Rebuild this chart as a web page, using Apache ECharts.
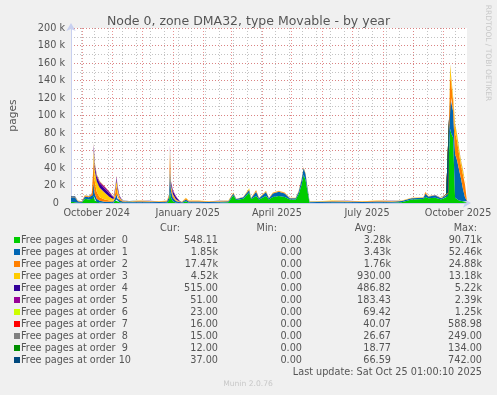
<!DOCTYPE html>
<html><head><meta charset="utf-8">
<script src="https://cdn.jsdelivr.net/npm/echarts@6/dist/echarts.min.js"></script>
<style>html,body{margin:0;padding:0;background:#F0F0F0}#c{width:497px;height:395px}</style>
</head><body><div id="c"></div>
<script>
// ---- data (pages), one value per sample date ----
const dates = ['2024-09-20','2024-09-24','2024-09-27','2024-10-01','2024-10-04','2024-10-08','2024-10-11','2024-10-12','2024-10-13','2024-10-14',
'2024-10-16','2024-10-19','2024-10-24','2024-10-29','2024-11-02','2024-11-04','2024-11-05','2024-11-06','2024-11-08','2024-11-11',
'2024-11-18','2024-11-28','2024-12-08','2024-12-18','2024-12-26','2024-12-28','2024-12-29','2024-12-30','2025-01-01','2025-01-04',
'2025-01-07','2025-01-10','2025-01-14','2025-01-17','2025-01-27','2025-02-06','2025-02-16','2025-02-26','2025-03-03','2025-03-06',
'2025-03-13','2025-03-19','2025-03-21','2025-03-26','2025-03-29','2025-04-05','2025-04-08','2025-04-12','2025-04-18','2025-04-24',
'2025-04-29','2025-05-05','2025-05-08','2025-05-11','2025-05-13','2025-05-15','2025-05-17','2025-05-19','2025-05-27','2025-06-11',
'2025-06-26','2025-07-11','2025-07-26','2025-08-10','2025-08-20','2025-08-30','2025-09-11','2025-09-13','2025-09-16','2025-09-23',
'2025-09-29','2025-10-04','2025-10-06','2025-10-07','2025-10-08','2025-10-09','2025-10-11','2025-10-13','2025-10-15','2025-10-17',
'2025-10-19','2025-10-21','2025-10-23','2025-10-25'];

const order0 = [1500,1000,300,200,5000,4000,5000,5000,8000,3000,
1000,500,0,0,200,3000,4000,2000,1000,200,
200,300,200,100,300,3000,14000,6000,2000,200,
100,100,2000,300,200,100,300,800,9000,3500,
5000,12000,4500,8000,4000,8000,4000,7000,8000,7000,
4000,4000,10000,21000,32000,26000,13000,200,100,300,
200,100,400,300,1000,4000,4500,7000,5500,6000,
4000,6500,8000,60000,85000,80000,75000,6000,4000,3000,
3000,2000,1500,548];
const order1 = [5000,5500,1800,1000,2500,2500,3500,4000,15000,8000,
4000,2000,1500,1500,1500,4000,6000,3000,2000,1500,
1200,1500,1300,1100,1500,4000,24000,8000,4000,2000,
1000,800,2000,1500,1500,1100,1200,1300,2000,1000,
1500,3000,1000,5000,1500,4500,1500,4000,5000,4000,
1500,1500,3000,6000,8000,7000,4000,1300,1200,1300,
1200,1100,1300,1200,1300,1500,1500,3500,2000,2500,
1500,2300,2500,25000,36000,40000,30000,50000,45000,35000,
25000,14000,5000,1850];
const order2 = [500,500,500,400,1000,1000,1800,3000,24500,14000,
8000,4000,2500,1500,1000,6000,10000,6000,2000,500,
400,700,600,500,800,2000,18000,4000,2000,1000,
500,300,1500,800,800,500,600,600,600,300,
300,1000,300,1500,300,1000,300,700,700,700,
300,300,700,700,700,700,700,300,500,800,
600,500,800,600,400,300,300,1500,300,300,
300,800,1000,10000,24000,18000,12000,24500,22000,18000,
15000,16000,15000,17470];
const order3 = [200,200,200,200,300,300,400,1000,13000,13000,
12000,11000,8000,4000,1500,4000,6000,5000,1500,300,
200,300,300,200,300,500,5000,3000,2000,1000,
300,200,500,300,400,200,300,200,300,200,
200,500,200,500,200,500,200,300,300,300,
200,200,300,300,300,300,300,100,200,400,
300,200,300,300,200,200,200,500,200,200,
200,300,300,4000,13000,7000,5000,10000,7000,6000,
5000,5000,4000,4520];
const order4 = [100,100,0,0,0,0,200,500,5000,5000,
5000,5000,4500,4000,2000,2000,3000,3000,1500,300,
100,100,100,100,100,300,3000,3000,3500,3000,
1000,100,100,100,100,100,100,100,100,0,
0,200,0,0,0,0,0,0,0,0,
0,0,0,0,0,0,0,100,0,200,
200,100,200,100,100,100,100,200,100,100,
100,100,100,500,500,300,300,500,500,500,
500,500,500,515];
const order5 = [0,0,0,0,0,0,0,300,2300,2000,
2000,2000,2000,1500,700,1000,1500,1200,500,100,
0,0,0,0,0,100,2000,1000,1000,800,
200,0,0,0,0,0,0,0,0,0,
0,0,0,0,0,0,0,0,0,0,
0,0,0,0,0,0,0,0,0,0,
0,0,0,0,0,0,0,0,0,0,
0,0,0,200,200,100,100,100,100,100,
100,100,100,51];
const order6 = [0,0,0,0,0,0,0,0,1200,1000,
800,600,500,400,200,300,500,300,100,0,
0,0,0,0,0,0,1000,300,200,100,
0,0,0,0,0,0,0,0,0,0,
0,300,0,0,0,0,0,0,0,0,
0,0,0,0,0,0,0,0,0,0,
0,0,0,0,0,0,0,0,0,0,
0,0,0,100,100,0,0,0,0,0,
0,0,0,23];
const order7 = [0,0,0,0,0,0,0,0,500,300,
200,100,100,100,0,0,100,0,0,0,
0,0,0,0,0,0,500,100,0,0,
0,0,0,0,0,0,0,0,0,0,
0,0,0,0,0,0,0,0,0,0,
0,0,0,0,0,0,0,0,0,0,
0,0,0,0,0,0,0,300,0,0,
0,0,0,100,100,0,0,0,0,0,
0,0,0,16];
const order8 = [0,0,0,0,0,0,0,0,200,100,
100,0,0,0,0,0,0,0,0,0,
0,0,0,0,0,0,200,0,0,0,
0,0,0,0,0,0,0,0,0,0,
0,0,0,0,0,0,0,0,0,0,
0,0,0,0,0,0,0,0,0,0,
0,0,0,0,0,0,0,0,0,0,
0,0,0,0,0,0,0,0,0,0,
0,0,0,15];
const order9 = [0,0,0,0,0,0,0,0,100,0,
0,0,0,0,0,0,0,0,0,0,
0,0,0,0,0,0,100,0,0,0,
0,0,0,0,0,0,0,0,0,0,
0,0,0,0,0,0,0,0,0,0,
0,0,0,0,0,0,0,0,0,0,
0,0,0,0,0,0,0,0,0,0,
0,0,0,0,0,0,0,0,0,0,
0,0,0,12];
const order10 = [700,600,200,200,200,200,100,200,500,100,
0,0,0,0,0,0,100,0,0,100,
100,100,0,0,0,100,500,0,0,0,
0,0,0,0,0,0,0,0,0,0,
0,0,0,0,0,0,0,0,0,0,
0,0,0,0,0,0,0,0,0,0,
0,0,0,0,0,0,0,0,0,0,
0,0,100,100,100,100,0,0,0,0,
0,0,0,37];

const seriesNames = ['Free pages at order  0','Free pages at order  1','Free pages at order  2','Free pages at order  3',
'Free pages at order  4','Free pages at order  5','Free pages at order  6','Free pages at order  7',
'Free pages at order  8','Free pages at order  9','Free pages at order 10'];
const curVals = ['548.11','1.85k','17.47k','4.52k','515.00','51.00','23.00','16.00','15.00','12.00','37.00'];
const minVals = ['0.00','0.00','0.00','0.00','0.00','0.00','0.00','0.00','0.00','0.00','0.00'];
const avgVals = ['3.28k','3.43k','1.76k','930.00','486.82','183.43','69.42','40.07','26.67','18.77','66.59'];
const maxVals = ['90.71k','52.46k','24.88k','13.18k','5.22k','2.39k','1.25k','588.98','249.00','134.00','742.00'];

const xLabelDates = ['2024-10-16','2025-01-16','2025-04-16','2025-07-16','2025-10-16'];
const xLabelTexts = ['October 2024','January 2025','April 2025','July 2025','October 2025'];
const monthStarts = ['2024-10-01','2024-11-01','2024-12-01','2025-01-01','2025-02-01','2025-03-01','2025-04-01',
'2025-05-01','2025-06-01','2025-07-01','2025-08-01','2025-09-01','2025-10-01'];
const biweekStart = '2024-09-30';

const colors = ['#00CC00','#0066B3','#FF8000','#FFCC00','#330099','#990099','#CCFF00','#FF0000','#808080','#008F00','#00487D'];
const orders = [order0,order1,order2,order3,order4,order5,order6,order7,order8,order9,order10];

// ---- helpers ----
function ts(s){ const p = s.split('-').map(Number); return new Date(p[0], p[1]-1, p[2]).getTime(); }
const xMin = new Date(2024, 8, 20, 1, 0).getTime();
const xMax = new Date(2025, 9, 25, 1, 0).getTime();
const labelTs = xLabelDates.map(ts);
const monthTs = monthStarts.map(ts);
const biweekTs = [];
for (let t = ts(biweekStart); t < xMax; t += 14*86400000) biweekTs.push(t);

const FONT = 'DejaVu Sans';
const TXT = '#555555';
const AXC = '#C8D0F0';
const RED = 'rgba(225,110,110,0.75)';
const GRAY = 'rgba(170,170,170,0.7)';

const graphic = [];
const colX = {cur: 218, min: 302, avg: 391, max: 482};
[['Cur:',180],['Min:',277],['Avg:',376],['Max:',477]].forEach(h => graphic.push({
  type:'text', x:h[1], y:228, style:{text:h[0], align:'right', verticalAlign:'middle', font:'9.7px '+FONT, fill:TXT}
}));
for (let i = 0; i < 11; i++) {
  const y = 240 + 12*i;
  [[curVals,colX.cur],[minVals,colX.min],[avgVals,colX.avg],[maxVals,colX.max]].forEach(c => graphic.push({
    type:'text', x:c[1], y:y, style:{text:c[0][i], align:'right', verticalAlign:'middle', font:'9.7px '+FONT, fill:TXT}
  }));
}
graphic.push({type:'text', x:482, y:372, style:{text:'Last update: Sat Oct 25 01:00:10 2025', align:'right', verticalAlign:'middle', font:'9.7px '+FONT, fill:TXT}});
graphic.push({type:'text', x:248, y:384, style:{text:'Munin 2.0.76', align:'center', verticalAlign:'middle', font:'7.6px '+FONT, fill:'#C8C8C8'}});
graphic.push({type:'text', x:488, y:53, rotation:-Math.PI/2, style:{text:'RRDTOOL / TOBI OETIKER', align:'center', verticalAlign:'middle', font:'7.5px '+FONT, fill:'#C8C8C8'}});

const chart = echarts.init(document.getElementById('c'), null, {renderer:'canvas'});
chart.setOption({
  animation:false,
  backgroundColor:'#F0F0F0',
  title:{text:'Node 0, zone DMA32, type Movable - by year', left:'center', top:10,
    textStyle:{fontFamily:FONT, fontSize:12.5, fontWeight:'normal', color:TXT}},
  grid:{left:66, right:30, top:28, bottom:192, show:true, backgroundColor:'#FFFFFF', borderWidth:0},
  legend:{orient:'vertical', left:14, top:234, padding:0, itemGap:0, itemWidth:6, itemHeight:6, icon:'rect',
    selectedMode:false, data:seriesNames,
    textStyle:{fontFamily:FONT, fontSize:9.7, color:TXT, lineHeight:12, padding:[0,0,0,-4]}},
  xAxis:[
    // data axis (time)
    {type:'time', position:'bottom', min:xMin, max:xMax, axisLine:{show:false}, axisTick:{show:false}, axisLabel:{show:false}, splitLine:{show:false}},
    // biweekly minor grid
    {type:'value', position:'bottom', min:xMin, max:xMax, axisLine:{show:false}, axisLabel:{show:false},
      axisTick:{show:false, customValues:biweekTs},
      splitLine:{show:true, lineStyle:{color:GRAY, width:1, type:[1,2]}}},
    // monthly major grid
    {type:'value', position:'bottom', min:xMin, max:xMax, axisLine:{show:false}, axisLabel:{show:false},
      axisTick:{show:false, customValues:monthTs},
      splitLine:{show:true, lineStyle:{color:RED, width:1, type:[1,2]}}},
    // labels + axis line
    {type:'value', position:'bottom', offset:0, min:xMin, max:xMax,
      axisLine:{show:true, lineStyle:{color:AXC, width:1}, symbol:['none','arrow'], symbolSize:[7,8], symbolOffset:[0,4]},
      axisTick:{show:false, customValues:labelTs},
      splitLine:{show:false},
      axisLabel:{customValues:labelTs, formatter:(v)=>xLabelTexts[labelTs.indexOf(v)] || '', color:TXT,
        fontFamily:FONT, fontSize:9.7, margin:5, hideOverlap:false, showMinLabel:true, showMaxLabel:true}}
  ],
  yAxis:[
    {type:'value', position:'left', min:0, max:200000, interval:10000, axisLine:{show:false}, axisTick:{show:false}, axisLabel:{show:false},
      splitLine:{show:true, lineStyle:{color:GRAY, width:1, type:[1,2]}}},
    {type:'value', position:'left', offset:0, min:0, max:200000, interval:20000,
      name:'pages', nameLocation:'middle', nameGap:52, nameTextStyle:{fontFamily:FONT, fontSize:10.7, color:TXT},
      axisLine:{show:true, lineStyle:{color:AXC, width:1}, symbol:['none','arrow'], symbolSize:[7,8], symbolOffset:[0,5]},
      axisTick:{show:false},
      axisLabel:{color:TXT, fontFamily:FONT, fontSize:9.7, margin:6,
        formatter:(v)=> v === 0 ? '0  ' : (v/1000) + ' k'},
      splitLine:{show:true, lineStyle:{color:RED, width:1, type:[1,2]}}}
  ],
  series: orders.map((arr, i) => ({
    name: seriesNames[i], type:'line', stack:'all', symbol:'none', showSymbol:false,
    xAxisIndex:0, yAxisIndex:0, color: colors[i],
    lineStyle:{width:0}, areaStyle:{color:colors[i], opacity:1},
    data: dates.map((d, j) => [ts(d), arr[j]])
  })),
  graphic: graphic
});
</script>
</body></html>
